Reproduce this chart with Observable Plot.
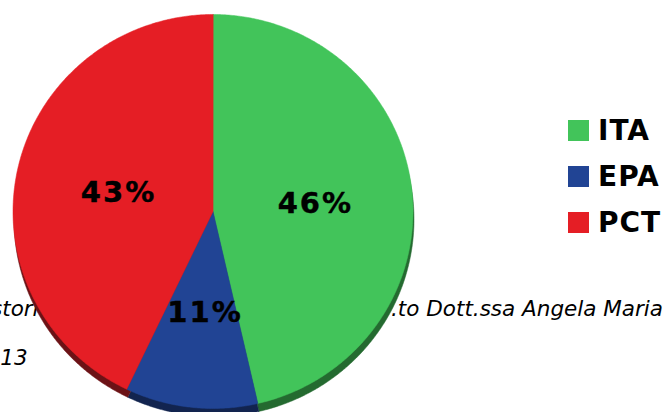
<!DOCTYPE html>
<html>
<head>
<meta charset="utf-8">
<script src="https://cdn.jsdelivr.net/npm/d3@7"></script>
<script src="https://cdn.jsdelivr.net/npm/@observablehq/plot@0.6"></script>
<style>
  html, body { margin: 0; padding: 0; background: #fff; }
  body { width: 663px; height: 412px; overflow: hidden; position: relative; font-family: "DejaVu Sans", sans-serif; }
  #chart { position: absolute; left: 0; top: 0; z-index: 2; }
  #chart svg { background: transparent; }
  #chart svg g[aria-label="text"] text { letter-spacing: 2px; }
  .cap { position: absolute; z-index: 1; white-space: nowrap; font-style: italic; font-size: 21.5px; color: #000; line-height: 1; }
  #legend { position: absolute; z-index: 3; left: 568px; top: 120px; }
  .item { display: flex; align-items: center; height: 21px; margin-bottom: 25px; }
  .sw { width: 21px; height: 21px; margin-right: 9px; flex: none; }
  .lab { font-weight: bold; font-size: 28px; letter-spacing: 1px; line-height: 1; color: #000; white-space: nowrap; }
</style>
</head>
<body>
<div class="cap" id="cap1a"></div>
<div class="cap" id="cap1b"></div>
<div class="cap" id="cap2"></div>
<div id="chart"></div>
<div id="legend"></div>
<script>
// ---- data ----
const categories = ["ITA", "EPA", "PCT"];
const shares = [46.4, 10.7, 42.9];
const pctLabels = ["46%", "11%", "43%"];
const colors = ["#42c45a", "#214494", "#e51e25"];
const shadowColors = ["#246a30", "#12244f", "#6c1216"];
const captionLeft = "storici";
const captionRight = ".to Dott.ssa Angela Maria";
const captionYear = "2013";

// ---- geometry via d3.pie (clockwise from 12 o'clock) ----
const arcs = d3.pie().sort(null).value(d => d)(shares);
const slices = arcs.map((a, i) => {
  const pts = [{x: 0, y: 0}];
  const n = Math.max(4, Math.ceil((a.endAngle - a.startAngle) / (Math.PI / 360)));
  for (let k = 0; k <= n; k++) {
    const t = a.startAngle + (a.endAngle - a.startAngle) * k / n;
    pts.push({x: Math.sin(t), y: Math.cos(t)});
  }
  const mid = (a.startAngle + a.endAngle) / 2;
  return {name: categories[i], label: pctLabels[i], color: colors[i], shadow: shadowColors[i],
          pts, lx: 0.5 * Math.sin(mid), ly: 0.5 * Math.cos(mid)};
});

const marks = [];
// shadow (offset copy)
slices.forEach(s => marks.push(Plot.line(s.pts, {x: "x", y: "y", curve: "linear-closed",
  fill: s.shadow, stroke: s.shadow, strokeWidth: 0.5, dx: 1, dy: 8})));
// slices
slices.forEach(s => marks.push(Plot.line(s.pts, {x: "x", y: "y", curve: "linear-closed",
  fill: s.color, stroke: s.color, strokeWidth: 0.5})));
// labels
marks.push(Plot.text(slices, {x: "lx", y: "ly", text: "label", fill: "#000",
  fontSize: 29, fontWeight: "bold", fontFamily: "DejaVu Sans", textAnchor: "middle",
  lineAnchor: "middle", dx: 3, dy: 3, stroke: "#000", strokeWidth: 0.4}));

const chart = Plot.plot({
  width: 663,
  height: 412,
  margin: 0,
  style: {background: "transparent", overflow: "hidden"},
  x: {domain: [-1, 1], range: [12.5, 412.5], axis: null},
  y: {domain: [-1, 1], range: [408, 14], axis: null},
  marks
});
document.getElementById("chart").appendChild(chart);

// ---- legend ----
const legend = document.getElementById("legend");
categories.forEach((c, i) => {
  const it = document.createElement("div");
  it.className = "item";
  it.innerHTML = `<div class="sw" style="background:${colors[i]}"></div><div class="lab">${c}</div>`;
  legend.appendChild(it);
});

// ---- partially hidden caption behind the pie ----
const c1a = document.getElementById("cap1a");
c1a.textContent = captionLeft; c1a.style.left = "-9px"; c1a.style.top = "298px";
const c1b = document.getElementById("cap1b");
c1b.textContent = captionRight; c1b.style.left = "391px"; c1b.style.top = "298px";
const c2 = document.getElementById("cap2");
c2.textContent = captionYear; c2.style.left = "-27px"; c2.style.top = "347px";
</script>
</body>
</html>
